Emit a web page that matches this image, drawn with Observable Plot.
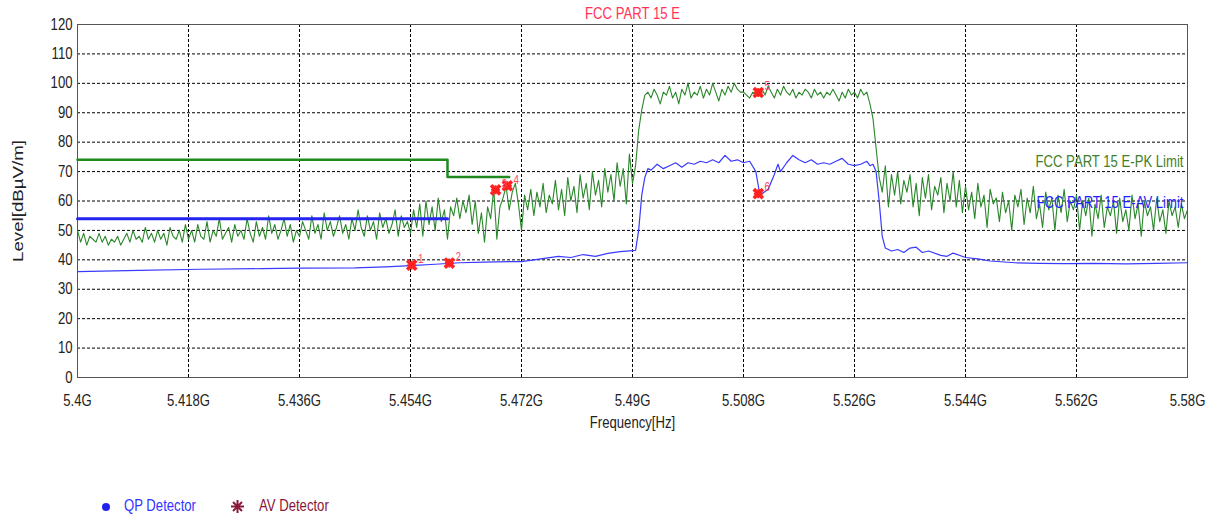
<!DOCTYPE html>
<html><head><meta charset="utf-8">
<script src="https://cdn.jsdelivr.net/npm/d3@7"></script>
<script src="https://cdn.jsdelivr.net/npm/@observablehq/plot@0.6"></script>
<style>
body{margin:0;background:#fff;position:relative;width:1207px;height:517px;overflow:hidden;}
#legend{position:absolute;left:0;top:490px;width:1207px;height:27px;font-family:"Liberation Sans",Arial,sans-serif;font-size:16px;}
#legend span{position:absolute;top:7px;line-height:18px;transform:scaleX(0.82);transform-origin:0 50%;white-space:nowrap;}
#legend svg{position:absolute;}
</style></head><body>
<div id="chart"></div>
<div id="legend">
  <svg style="left:101px;top:12px" width="10" height="10"><circle cx="5" cy="5" r="4" fill="#2222ee"/></svg>
  <span style="left:124px;color:#3333ff">QP Detector</span>
  <svg style="left:231px;top:10px" width="13" height="13"><g stroke="#8b1538" stroke-width="2"><line x1="6.5" y1="0" x2="6.5" y2="13"/><line x1="0" y1="6.5" x2="13" y2="6.5"/><line x1="2" y1="2" x2="11" y2="11"/><line x1="11" y1="2" x2="2" y2="11"/></g></svg>
  <span style="left:259px;color:#8b1538">AV Detector</span>
</div>
<script>
// ---- data ----
const titleText = "FCC PART 15 E";
const xTickValues = [5.4, 5.418, 5.436, 5.454, 5.472, 5.49, 5.508, 5.526, 5.544, 5.562, 5.58];
const xTickLabels = ["5.4G","5.418G","5.436G","5.454G","5.472G","5.49G","5.508G","5.526G","5.544G","5.562G","5.58G"];
const yTickValues = [0,10,20,30,40,50,60,70,80,90,100,110,120];

// peak trace (green), sweep start 5.4 GHz, step 0.0005 GHz
const pkStart = 5.4, pkStep = 0.0005;
const pkLevels = [
 50,46,49,45,48,47,46,49,46,48, 45,47,46,48,45,47,49,46,50,47, 48,46,51,47,49,46,50,47,49,45, 51,48,47,50,46,52,
 47,50,46,52,48,47,53,46,50,48, 54,47,49,51,46,52,48,50,47,54, 49,46,53,48,51,47,55,49,52,47, 50,54,48,52,46,50,
 48,53,50,47,55,49,52,47,56,50, 53,48,51,55,49,52,47,54,50,57, 51,48,55,50,53,47,56,51,54,49, 52,57,48,55,51,53,
 49,57,51,59,48,60,52,58,50,61, 53,57,47,58,55,61,54,60,56,62, 52,60,49,56,46,58,54,64,47,58, 61,65,57,63,66,59,
 50,62,57,64,55,63,58,66,56,62, 59,67,57,64,55,68,60,65,56,69, 61,66,57,70,62,67,58,71,63,69, 60,73,65,71,59,76,
 66,72,84,91,96,97,95,98,96,93, 97,96,99,95,97,93,98,96,100,95, 97,96,99,95,98,96,100,97,94,98, 96,99,97,100,98,97,
 97,96,95,97,96,96,98,96,99,97, 95,98,96,99,97,96,98,95,97,96, 98,97,95,98,96,97,95,97,96,98, 96,94,97,95,98,96,
 97,95,98,96,97,93,88,78,68,63, 72,58,69,62,70,59,67,63,69,58, 66,55,68,61,69,57,65,62,68,56, 66,60,70,58,67,56,
 65,57,63,54,66,58,62,51,64,59, 61,53,63,56,60,50,62,58,64,52, 61,56,65,54,59,51,63,57,61,50, 62,56,64,53,60,57,
 62,50,60,55,61,48,59,54,62,51, 58,55,60,49,61,53,57,50,62,54, 59,48,60,55,58,50,61,53,57,49, 60,55,58,51,59,54,57
];

// QP / average trace (blue)
const qpFreq = [5.400,5.410,5.420,5.430,5.436,5.445,5.450,5.454,5.458,5.462,5.466,5.470,5.472,5.474,5.476,5.478,5.480,5.482,5.484,5.486,5.488,5.4905,
 5.491,5.4915,5.492,5.4925,5.493,5.494,5.495,5.496,5.497,5.498,5.499,5.500,5.501,5.502,5.503,5.504,5.505,5.506,5.507,5.508,5.509,5.510,5.5105,5.511,5.512,5.513,5.5135,5.5136,5.514,5.515,5.516,5.517,5.518,5.519,5.520,5.521,5.522,5.523,5.524,5.525,5.526,5.527,5.528,5.5285,5.529,5.5295,5.530,5.5305,5.531,5.532,5.533,5.534,5.535,5.536,5.537,5.538,5.540,5.541,5.542,5.544,5.546,5.548,5.552,5.556,5.560,5.565,5.570,5.575,5.580];
const qpLevel = [36.0,36.4,36.8,37.0,37.2,37.3,37.6,38.0,38.5,39.0,39.2,39.4,39.4,40.0,40.6,41.2,40.8,41.8,41.2,42.2,42.8,43.2,
 50,62,68,71,70.5,72.5,71,72,73,71.5,73,72.5,73.5,73,74,73,75.5,73.5,74,73,73.5,70,64,62.5,64,69,72,72.5,70,73,75.5,74,73,74,72.5,73,72.5,73.5,74.5,72.5,72,72.5,73.5,72,72.5,70,60,48,44,43,43.5,42.5,44,44.3,42.5,43,41.5,41.2,42.3,40.8,40.3,39.6,39,38.8,38.7,38.8,38.6,38.8,39,39.2];

// limits
const pkLimitFreq = [5.4, 5.46, 5.46, 5.47];
const pkLimitLevel = [74, 74, 68.2, 68.2];
const avLimitFreq = [5.4, 5.46];
const avLimitLevel = [54, 54];

// markers
const mkFreq = [5.4542, 5.4603, 5.4678, 5.4697, 5.5104, 5.5104];
const mkLevel = [38.2, 38.9, 63.8, 65.2, 96.9, 62.5];
const mkLabel = ["1","2","3","4","5","6"];

// ---- tables ----
const pk = pkLevels.map((v, i) => ({f: pkStart + i * pkStep, v}));
const qp = qpFreq.map((f, i) => ({f, v: qpLevel[i]}));
const pkLim = pkLimitFreq.map((f, i) => ({f, v: pkLimitLevel[i]}));
const avLim = avLimitFreq.map((f, i) => ({f, v: avLimitLevel[i]}));
const mk = mkFreq.map((f, i) => ({f, v: mkLevel[i], t: mkLabel[i]}));
const xLab = new Map(xTickValues.map((v, i) => [v, xTickLabels[i]]));

const FONT = '"Liberation Sans", Arial, sans-serif';
const chart = Plot.plot({
  width: 1207, height: 490,
  marginLeft: 77, marginRight: 20, marginTop: 24, marginBottom: 113,
  style: {fontFamily: FONT, fontSize: "16px", color: "#222", background: "#fff"},
  x: {domain: [5.4, 5.58]},
  y: {domain: [0, 120]},
  marks: [
    Plot.gridX(xTickValues, {stroke: "#000", strokeOpacity: 1, strokeDasharray: "3,2"}),
    Plot.gridY(yTickValues, {stroke: "#000", strokeOpacity: 1, strokeDasharray: "3,2"}),
    Plot.frame({stroke: "#555", strokeWidth: 1}),
    Plot.axisX(xTickValues, {tickSize: 0, tickPadding: 17, tickFormat: d => xLab.get(d), label: null, fontSize: 16}),
    Plot.axisY(yTickValues, {tickSize: 0, tickPadding: 5, label: null, fontSize: 16}),
    Plot.line(pk, {x: "f", y: "v", stroke: "#2a872a", strokeWidth: 1.1}),
    Plot.line(pkLim, {x: "f", y: "v", stroke: "#1e8a1e", strokeWidth: 2.5}),
    Plot.line(avLim, {x: "f", y: "v", stroke: "#2424f0", strokeWidth: 3}),
    Plot.line(qp, {x: "f", y: "v", stroke: "#3a3aff", strokeWidth: 1.2}),
    Plot.dot(mk, {x: "f", y: "v", symbol: "times", r: 4.2, stroke: "#ff2020", strokeWidth: 3.6}),
    Plot.dot(mk, {x: "f", y: "v", symbol: "plus", r: 3, stroke: "#ff2020", strokeWidth: 2}),
    Plot.text(mk, {x: "f", y: "v", text: "t", fill: "#ff4466", fontSize: 12, dx: 9, dy: -6}),
    Plot.text(["FCC PART 15 E-PK Limit"], {x: 5.58, y: 73.2, text: d => d, textAnchor: "end", dx: -4, fill: "#3f7f2a", fontSize: 16}),
    Plot.text(["FCC PART 15 E-AV Limit"], {x: 5.58, y: 59.2, text: d => d, textAnchor: "end", dx: -4, fill: "#1f1fff", fontSize: 16}),
    Plot.text([titleText], {frameAnchor: "top", dy: -11, lineAnchor: "middle", text: d => d, fill: "#ff3355", fontSize: 16}),
    Plot.text(["Frequency[Hz]"], {frameAnchor: "bottom", dy: 45, lineAnchor: "middle", text: d => d, fill: "#222", fontSize: 16}),
    Plot.text(["Level[dBµV/m]"], {frameAnchor: "left", dx: -59, rotate: -90, textAnchor: "middle", lineAnchor: "middle", text: d => d, fill: "#222", fontSize: 15})
  ]
});
document.getElementById("chart").appendChild(chart);
// condense all texts horizontally (narrow face), stretch the vertical axis title
d3.select(chart).selectAll("text").each(function() {
  if (this.textContent === "Level[dBµV/m]") {
    this.setAttribute("textLength", 122);
  } else {
    const L = this.getComputedTextLength();
    if (L > 0) this.setAttribute("textLength", (L * 0.82).toFixed(1));
  }
  this.setAttribute("lengthAdjust", "spacingAndGlyphs");
});
</script></body></html>
